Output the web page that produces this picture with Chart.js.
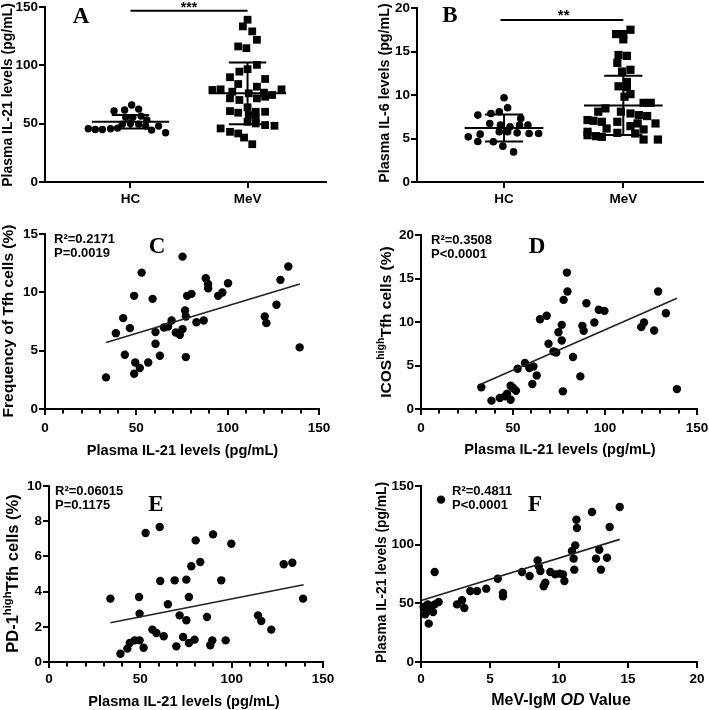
<!DOCTYPE html>
<html>
<head>
<meta charset="utf-8">
<script src="https://cdn.jsdelivr.net/npm/chart.js@4.4.0/dist/chart.umd.min.js"></script>
<style>
  html, body { margin: 0; padding: 0; background: #fff; }
  #fig { position: relative; width: 709px; height: 710px; background: #fff; overflow: hidden; }
  #fig canvas { position: absolute; }
</style>
</head>
<body>
<div id="fig"></div>
<script>
const SANS = '"Liberation Sans", Arial, Helvetica, sans-serif';
const SERIF = '"Liberation Serif", "Times New Roman", serif';

// ---- A: plasma IL-21 (pg/mL), x = group position with the dot spread ----
const groups = ['HC', 'MeV'];
const il21HcX = [0.64, 0.70, 0.76, 0.83, 0.89, 0.86, 0.95, 1.01, 1.07, 0.96, 1.02, 1.09, 1.14, 0.93, 1.00, 1.07, 1.13, 1.18, 1.24, 1.30];
const il21HcY = [45.6, 45.0, 45.0, 45.6, 46.2, 60.8, 61.7, 66.0, 62.5, 55.4, 55.4, 56.5, 53.1, 49.6, 50.2, 49.6, 47.9, 44.5, 47.9, 42.2];
const il21MevX = [2.00, 1.96, 2.04, 2.08, 1.92, 1.99, 2.08, 2.00, 1.93, 1.85, 2.15, 1.92, 2.08, 1.70, 1.77, 1.87, 2.01, 2.14, 2.21, 2.29,
                  1.85, 1.93, 2.08, 2.15, 1.85, 1.92, 2.00, 2.07, 2.15, 2.01, 2.07, 2.00, 2.07, 2.15, 2.23, 1.77, 1.85, 1.92, 1.97, 2.04];
const il21MevY = [139.1, 133.4, 129.1, 121.9, 116.2, 114.7, 100.4, 96.7, 94.6, 89.8, 88.3, 84.0, 81.7, 78.9, 79.4, 77.4, 76.0, 76.6, 74.6, 79.4,
                  71.7, 70.3, 71.7, 73.1, 60.8, 59.4, 64.0, 60.2, 60.2, 57.4, 54.5, 51.6, 50.2, 48.8, 48.2, 45.9, 43.0, 41.6, 38.1, 32.4];
const il21Mean = [51.6, 76.0];
const il21Sd = [5.8, 26.5];

// ---- B: plasma IL-6 (pg/mL) ----
const il6HcX = [1.00, 1.03, 0.78, 0.89, 0.96, 1.14, 0.88, 0.97, 1.05, 1.13, 1.20, 0.70, 0.80, 0.96, 1.03, 1.11, 1.21, 1.29, 0.78, 0.91, 0.99, 1.08];
const il6HcY = [9.69, 8.54, 7.69, 7.88, 8.08, 7.31, 6.73, 6.54, 6.35, 6.54, 6.54, 5.19, 5.50, 5.77, 5.77, 5.65, 5.58, 5.58, 4.65, 4.62, 4.12, 3.46];
const il6MevX = [2.06, 2.00, 1.94, 2.00, 1.96, 2.03, 1.95, 2.06, 1.99, 2.03, 1.96, 2.03, 2.06, 2.01, 2.17, 2.23, 1.85, 1.79, 1.98, 2.06,
                 2.13, 2.20, 1.70, 1.75, 1.82, 1.95, 2.12, 2.27, 2.06, 2.17, 1.70, 1.86, 1.70, 1.77, 1.82, 1.95, 2.10, 2.17, 2.29];
const il6MevY = [17.5, 17.0, 17.0, 16.4, 14.6, 14.5, 13.7, 12.9, 12.7, 11.5, 11.0, 10.9, 10.1, 9.8, 9.1, 9.1, 8.46, 8.08, 8.08, 7.88,
                 7.69, 7.58, 7.12, 7.04, 6.92, 6.92, 6.73, 6.73, 6.42, 6.04, 5.77, 6.15, 5.38, 5.27, 5.19, 5.65, 5.58, 4.88, 4.88];
const il6Mean = [6.2, 8.8];
const il6Sd = [1.55, 3.4];

// ---- C: Tfh frequency (%) vs IL-21 ----
const tfhX = [33.4, 38.8, 42.8, 43.7, 46.5, 48.8, 48.8, 49.4, 51.9, 52.9, 56.5, 58.9, 60.5, 60.5, 62.9, 65.1, 67.4, 69.3, 71.6, 73.8, 75.3,
              75.3, 76.7, 77.1, 77.1, 77.8, 80.2, 82.9, 86.9, 88.0, 89.3, 89.3, 94.8, 97.1, 100.2, 120.3, 121.2, 126.7, 128.9, 133.2, 139.4];
const tfhY = [2.71, 6.50, 7.79, 4.65, 6.93, 9.70, 3.02, 3.99, 3.51, 11.69, 3.99, 9.44, 6.59, 5.59, 4.56, 6.99, 7.07, 7.59, 6.56, 6.36, 6.85,
              13.06, 8.44, 7.93, 4.45, 9.70, 9.87, 7.44, 7.59, 11.21, 10.72, 10.35, 9.70, 9.98, 10.78, 7.93, 7.36, 8.93, 11.07, 12.21, 5.28];
const tfhFitX = [33.5, 139.5];
const tfhFitY = [5.70, 10.72];

// ---- D: ICOS-high Tfh (%) vs IL-21 ----
const icosX = [32.8, 38.3, 42.8, 45.6, 46.8, 48.7, 48.7, 50.1, 51.6, 52.5, 56.5, 58.9, 60.5, 61.1, 62.9, 64.7, 68.3, 69.3, 72.0, 73.5, 74.7,
               76.5, 76.5, 77.1, 77.5, 79.3, 79.6, 82.6, 86.6, 87.7, 88.4, 89.9, 94.2, 96.6, 99.7, 119.7, 121.2, 126.7, 128.9, 133.1, 139.1];
const icosY = [2.49, 0.96, 1.26, 1.45, 1.76, 1.07, 2.68, 2.41, 2.10, 4.63, 5.28, 4.70, 2.87, 4.89, 3.86, 10.32, 10.71, 7.50, 6.62, 6.50, 8.83,
               9.67, 7.88, 2.03, 12.54, 15.68, 13.50, 5.97, 3.75, 9.56, 8.99, 12.16, 9.94, 11.40, 11.28, 9.41, 9.94, 9.02, 13.50, 11.01, 2.29];
const icosFitX = [32.8, 139.1];
const icosFitY = [2.87, 12.73];

// ---- E: PD-1-high Tfh (%) vs IL-21 ----
const pd1X = [33.6, 39.1, 42.9, 44.2, 46.9, 49.3, 49.6, 49.6, 51.8, 52.9, 56.6, 58.8, 60.6, 60.9, 62.8, 65.1, 68.8, 69.7, 71.5, 73.4, 75.2,
              75.2, 76.6, 76.6, 77.9, 79.7, 80.3, 82.8, 86.5, 88.3, 89.4, 89.8, 94.3, 96.7, 99.8, 114.4, 116.2, 121.7, 128.5, 133.2, 139.1];
const pd1Y = [3.60, 0.47, 0.76, 1.08, 1.23, 3.69, 2.75, 1.23, 0.81, 7.33, 1.84, 1.65, 7.67, 4.60, 1.46, 3.28, 4.64, 0.89, 2.65, 1.42, 4.68,
              2.37, 3.69, 1.08, 5.44, 1.27, 6.91, 5.68, 2.56, 0.95, 1.23, 7.25, 4.64, 1.23, 6.72, 2.65, 2.33, 1.84, 5.55, 5.64, 3.60];
const pd1FitX = [33.6, 139.4];
const pd1FitY = [2.23, 4.39];

// ---- F: IL-21 vs MeV-IgM OD ----
const odX = [1.45, 0.19, 0.31, 0.48, 0.56, 0.48, 0.75, 0.87, 0.99, 0.99, 1.28, 2.61, 2.97, 3.14, 3.57, 4.06, 4.73, 5.56, 5.94, 5.94, 7.32, 7.87, 8.45,
             8.53, 8.65, 8.89, 9.01, 9.37, 9.73, 10.05, 10.29, 10.39, 10.94, 11.06, 11.11, 11.18, 11.26, 11.30, 12.39, 12.68, 12.92, 13.04, 13.48, 13.67, 14.40];
const odY = [138.4, 46.9, 40.6, 44.6, 32.7, 49.1, 46.9, 42.6, 76.7, 49.1, 51.1, 49.1, 52.6, 46.0, 60.5, 60.5, 62.5, 71.0, 58.8, 56.0, 76.7, 73.3, 86.6,
             81.5, 77.6, 64.5, 67.6, 76.7, 74.7, 75.3, 74.7, 69.0, 94.6, 88.1, 78.7, 99.4, 121.3, 114.2, 127.8, 88.1, 95.7, 78.7, 88.9, 115.1, 132.1];
const odFitX = [0.07, 14.4];
const odFitY = [52.6, 104.5];

// tick values
const ticksIl21 = [0, 50, 100, 150];
const ticksIl6 = [0, 5, 10, 15, 20];
const ticksTfh = [0, 5, 10, 15];
const ticksIcos = [0, 5, 10, 15, 20];
const ticksPd1 = [0, 2, 4, 6, 8, 10];
const ticksOd = [0, 5, 10, 15, 20];
const minorIl21 = [10, 20, 30, 40, 60, 70, 80, 90, 110, 120, 130, 140];
const groupTicks = [1, 2];

const stats = {
  C: ['R²=0.2171', 'P=0.0019'],
  D: ['R²=0.3508', 'P<0.0001'],
  E: ['R²=0.06015', 'P=0.1175'],
  F: ['R²=0.4811', 'P<0.0001']
};

function pts(xs, ys) { return xs.map((x, i) => ({ x: x, y: ys[i] })); }

function dots(xs, ys, style, r) {
  return { data: pts(xs, ys), pointStyle: style, pointRadius: r, pointBackgroundColor: '#000',
           pointBorderWidth: 0, pointBorderColor: '#000', showLine: false, clip: false };
}

function seg(xs, ys, w, col) {
  return { data: pts(xs, ys), showLine: true, pointRadius: 0, borderColor: col || '#000',
           borderWidth: w, clip: false };
}

// mean line, SD caps and the vertical SD bar for one group
function summary(center, mean, sd) {
  return [
    seg([center - 0.33, center + 0.33], [mean, mean], 2),
    seg([center - 0.16, center + 0.16], [mean + sd, mean + sd], 2),
    seg([center - 0.16, center + 0.16], [mean - sd, mean - sd], 2),
    seg([center, center], [mean - sd, mean + sd], 2)
  ];
}

function segFont(it, s) {
  const size = s.sup ? it.size * 0.68 : it.size;
  return (s.it ? 'italic ' : '') + 'bold ' + size + 'px ' + (it.family || SANS);
}

// text with optional superscript / italic parts; y is the middle of the capitals
function drawRich(ctx, it, ox, oy) {
  ctx.save();
  ctx.translate(it.x - ox, it.y - oy);
  if (it.rot) ctx.rotate(-Math.PI / 2);
  ctx.fillStyle = '#000';
  ctx.textBaseline = 'alphabetic';
  ctx.textAlign = 'left';
  let total = 0;
  const widths = it.segs.map(s => {
    ctx.font = segFont(it, s);
    const w = ctx.measureText(s.t).width;
    total += w;
    return w;
  });
  let x = it.align === 'left' ? 0 : -total / 2;
  const base = it.size * (it.family === SERIF ? 0.33 : 0.32);
  it.segs.forEach((s, i) => {
    ctx.font = segFont(it, s);
    ctx.fillText(s.t, x, base - (s.sup ? it.size * 0.42 : 0));
    x += widths[i];
  });
  ctx.restore();
}

function txt(t, x, y, size, extra) { return Object.assign({ segs: [{ t: t }], x: x, y: y, size: size }, extra || {}); }
function statItems(lines, x, y) {
  return [txt(lines[0], x, y, 13, { align: 'left' }), txt(lines[1], x, y + 14, 13, { align: 'left' })];
}

function axis(spec, dir, size) {
  return {
    type: 'linear', min: spec.min, max: spec.max,
    afterBuildTicks: s => { s.ticks = spec.ticks.map(v => ({ value: v })); },
    afterFit: s => {
      if (dir === 'y') s.width = size; else s.height = size;
      s.paddingTop = 0; s.paddingBottom = 0; s.paddingLeft = 0; s.paddingRight = 0;
    },
    ticks: {
      color: '#000', autoSkip: false, maxRotation: 0,
      padding: spec.pad,
      font: { family: SANS, size: 13.5, weight: 'bold' },
      callback: (v, i) => spec.labels ? spec.labels[i] : String(v)
    },
    grid: { display: true, drawOnChartArea: false, drawTicks: true, tickLength: 6,
            tickWidth: 2, tickColor: '#000', lineWidth: 2, color: '#000' },
    border: { display: true, width: 2, color: '#000' }
  };
}

const panels = [
  { // A
    box: [0, 0, 345, 215], area: [45, 7, 326, 182],
    x: { min: 0.27, max: 2.67, ticks: groupTicks, labels: groups, pad: 3 },
    y: { min: 0, max: 150, ticks: ticksIl21, pad: 1 },
    datasets: [].concat(
      summary(1, il21Mean[0], il21Sd[0]), summary(2, il21Mean[1], il21Sd[1]),
      [seg([1, 2], [146.8, 146.8], 2.2),
       dots(il21HcX, il21HcY, 'circle', 3.7), dots(il21MevX, il21MevY, 'rect', 5.5)]),
    sig: { x: 1.5, y: 146.8, label: '***', size: 14, dy: 1.5 },
    texts: [txt('Plasma IL-21 levels (pg/mL)', 7.5, 95, 14, { rot: true }),
            txt('A', 81, 15, 23, { family: SERIF })]
  },
  { // B
    box: [354, 0, 355, 215], area: [417, 8, 705, 182],
    x: { min: 0.27, max: 2.67, ticks: groupTicks, labels: groups, pad: 3 },
    y: { min: 0, max: 20, ticks: ticksIl6, pad: 1 },
    datasets: [].concat(
      summary(1, il6Mean[0], il6Sd[0]), summary(2, il6Mean[1], il6Sd[1]),
      [seg([0.97, 2.0], [18.62, 18.62], 2.2),
       dots(il6HcX, il6HcY, 'circle', 3.8), dots(il6MevX, il6MevY, 'rect', 5.8)]),
    sig: { x: 1.5, y: 18.62, label: '**', size: 15, dy: -0.5 },
    texts: [txt('Plasma IL-6 levels (pg/mL)', 384, 93, 14.3, { rot: true }),
            txt('B', 450, 14, 23, { family: SERIF })]
  },
  { // C
    box: [0, 220, 354, 240], area: [45, 234, 319, 409],
    x: { min: 0, max: 150, ticks: ticksIl21, minor: minorIl21, pad: 5 },
    y: { min: 0, max: 15, ticks: ticksTfh, pad: 1 },
    datasets: [seg(tfhFitX, tfhFitY, 1.6, '#222'), dots(tfhX, tfhY, 'circle', 4.2)],
    texts: [txt('Frequency of Tfh cells (%)', 8.5, 321, 15.5, { rot: true }),
            txt('Plasma IL-21 levels (pg/mL)', 182.5, 450, 14.6),
            txt('C', 157, 245, 23, { family: SERIF })].concat(statItems(stats.C, 54, 239))
  },
  { // D
    box: [354, 220, 355, 240], area: [421, 235, 697, 409],
    x: { min: 0, max: 150, ticks: ticksIl21, minor: minorIl21, pad: 5 },
    y: { min: 0, max: 20, ticks: ticksIcos, pad: 1 },
    datasets: [seg(icosFitX, icosFitY, 1.6, '#222'), dots(icosX, icosY, 'circle', 4.2)],
    texts: [{ segs: [{ t: 'ICOS' }, { t: 'high', sup: true }, { t: 'Tfh cells (%)' }], x: 386, y: 322, size: 15.5, rot: true },
            txt('Plasma IL-21 levels (pg/mL)', 560, 449.5, 14.6),
            txt('D', 537, 245, 23, { family: SERIF })].concat(statItems(stats.D, 431, 240))
  },
  { // E
    box: [0, 460, 354, 250], area: [49, 486, 323, 662],
    x: { min: 0, max: 150, ticks: ticksIl21, minor: minorIl21, pad: 3 },
    y: { min: 0, max: 10, ticks: ticksPd1, pad: 1 },
    datasets: [seg(pd1FitX, pd1FitY, 1.6, '#222'), dots(pd1X, pd1Y, 'circle', 4.2)],
    texts: [{ segs: [{ t: 'PD-1' }, { t: 'high', sup: true }, { t: 'Tfh cells (%)' }], x: 12.5, y: 573.5, size: 16.5, rot: true },
            txt('Plasma IL-21 levels (pg/mL)', 184, 701, 14.6),
            txt('E', 156, 503, 23, { family: SERIF })].concat(statItems(stats.E, 55, 491))
  },
  { // F
    box: [354, 460, 355, 250], area: [421, 486, 697, 662],
    x: { min: 0, max: 20, ticks: ticksOd, pad: 3 },
    y: { min: 0, max: 150, ticks: ticksIl21, pad: 1 },
    datasets: [seg(odFitX, odFitY, 1.6, '#222'), dots(odX, odY, 'circle', 4.2)],
    texts: [txt('Plasma IL-21 levels (pg/mL)', 381.5, 572.5, 13.8, { rot: true }),
            { segs: [{ t: 'MeV-IgM ' }, { t: 'OD', it: true }, { t: ' Value' }], x: 561, y: 700, size: 16 },
            txt('F', 535, 503, 23, { family: SERIF })].concat(statItems(stats.F, 452, 491))
  }
];

const fig = document.getElementById('fig');

panels.forEach((p, n) => {
  const [bx, by, bw, bh] = p.box;
  const cv = document.createElement('canvas');
  cv.width = bw; cv.height = bh;
  cv.style.left = bx + 'px'; cv.style.top = by + 'px';
  cv.style.width = bw + 'px'; cv.style.height = bh + 'px';
  fig.appendChild(cv);

  const left = p.area[0] - bx, top = p.area[1] - by;
  const right = bx + bw - p.area[2], bottom = p.area[3] - by;

  const extras = {
    id: 'extras' + n,
    afterDraw(chart) {
      const ctx = chart.ctx;
      const xs = chart.scales.x, ys = chart.scales.y;
      ctx.save();
      if (p.x.minor) {
        const b = chart.chartArea.bottom;
        ctx.strokeStyle = '#000';
        ctx.lineWidth = 2;
        p.x.minor.forEach(v => {
          const px = Math.round(xs.getPixelForValue(v));
          ctx.beginPath(); ctx.moveTo(px, b); ctx.lineTo(px, b + 4.5); ctx.stroke();
        });
      }
      if (p.sig) {
        ctx.fillStyle = '#000';
        ctx.font = 'bold ' + p.sig.size + 'px ' + SANS;
        ctx.textAlign = 'center';
        ctx.textBaseline = 'alphabetic';
        ctx.fillText(p.sig.label, xs.getPixelForValue(p.sig.x), ys.getPixelForValue(p.sig.y) + p.sig.dy);
      }
      ctx.restore();
      p.texts.forEach(it => drawRich(ctx, it, bx, by));
    }
  };

  new Chart(cv, {
    type: 'scatter',
    data: { datasets: p.datasets },
    options: {
      responsive: false,
      animation: false,
      devicePixelRatio: 1,
      layout: { padding: { left: 0, top: top, right: right, bottom: 0 } },
      plugins: { legend: { display: false }, tooltip: { enabled: false } },
      scales: {
        x: axis(p.x, 'x', bh - bottom),
        y: axis(p.y, 'y', left)
      }
    },
    plugins: [extras]
  });
});
</script>
</body>
</html>
